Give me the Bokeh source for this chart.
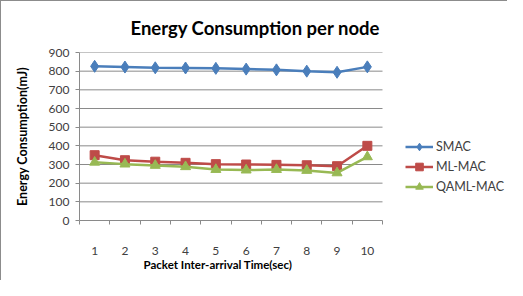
from bokeh.plotting import figure
from bokeh.models import Legend, LegendItem, FixedTicker, Range1d, Title
from bokeh.embed import file_html
from bokeh.resources import INLINE

x_vals = [1, 2, 3, 4, 5, 6, 7, 8, 9, 10]
x_labels = ["1", "2", "3", "4", "5", "6", "7", "8", "9", "10"]
smac = [826, 822, 818, 817, 815, 811, 807, 800, 794, 823]
mlmac = [350, 323, 315, 309, 302, 300, 298, 296, 291, 400]
qamlmac = [312, 302, 295, 288, 273, 270, 273, 268, 255, 341]
y_ticks = [0, 100, 200, 300, 400, 500, 600, 700, 800, 900]

FONT = "Lato"
TXT = "#404040"
GRID = "#8a8a8a"

x_lo = x_vals[0] - 0.5
x_hi = x_vals[-1] + 0.5
# frame extends to the right to host the legend; category width ~30.3 px
x_end = x_lo + 427 / 30.3

p = figure(width=507, height=280, output_backend="svg", toolbar_location=None,
           x_range=Range1d(x_lo, x_end), y_range=Range1d(y_ticks[0], y_ticks[-1]),
           min_border_left=78, min_border_right=2, min_border_top=51, min_border_bottom=61)
p.title = None
p.add_layout(Title(text="Energy Consumption per node", align="left", text_font=FONT,
                   text_font_size="18.5px", text_font_style="bold", text_color="#000000",
                   offset=51, standoff=27), "above")

p.outline_line_color = None
p.background_fill_color = "white"
p.border_fill_color = "white"
p.styles = {"border-top": "1px solid #8c8c8c", "border-left": "1px solid #8c8c8c"}

p.xgrid.grid_line_color = None
p.ygrid.grid_line_color = None
p.segment(x0=x_lo, x1=x_hi, y0=y_ticks[1:], y1=y_ticks[1:], line_color=GRID, line_width=1)

p.xaxis.bounds = (x_lo, x_hi)
p.xaxis.ticker = FixedTicker(ticks=x_vals, minor_ticks=[v - 0.5 for v in x_vals] + [x_hi])
p.xaxis.major_label_overrides = {v: l for v, l in zip(x_vals, x_labels)}
p.xaxis.major_tick_line_color = None
p.xaxis.minor_tick_line_color = GRID
p.xaxis.minor_tick_out = 4
p.xaxis.minor_tick_in = 0
p.xaxis.axis_line_color = GRID
p.xaxis.major_label_standoff = 20

p.add_layout(Title(text="Packet Inter-arrival Time(sec)", align="left", text_font=FONT,
                   text_font_size="11.5px", text_font_style="bold", text_color="#000000",
                   offset=64, standoff=1, vertical_align="top"), "below")

p.yaxis.ticker = FixedTicker(ticks=y_ticks)
p.yaxis.minor_tick_line_color = None
p.yaxis.major_tick_line_color = GRID
p.yaxis.major_tick_out = 4
p.yaxis.major_tick_in = 0
p.yaxis.axis_line_color = GRID
p.yaxis.major_label_standoff = 6
p.yaxis.axis_label = "Energy Consumption(mJ)"
p.yaxis.axis_label_standoff = 16
p.yaxis.axis_label_text_font = FONT
p.yaxis.axis_label_text_font_style = "bold"
p.yaxis.axis_label_text_color = "#000000"
p.yaxis.axis_label_text_font_size = "12.5px"

for ax in (p.xaxis, p.yaxis):
    ax.major_label_text_font = FONT
    ax.major_label_text_font_size = "12px"
    ax.major_label_text_color = TXT

c1, c2, c3 = "#4A7EBB", "#BE4B48", "#98B954"
l1 = p.line(x_vals, smac, line_color=c1, line_width=2.5)
m1 = p.scatter(x_vals, smac, marker="diamond", size=12, fill_color=c1, line_color=c1)
l2 = p.line(x_vals, mlmac, line_color=c2, line_width=2.5)
m2 = p.scatter(x_vals, mlmac, marker="square", size=9, fill_color=c2, line_color=c2)
l3 = p.line(x_vals, qamlmac, line_color=c3, line_width=2.5)
m3 = p.scatter(x_vals, qamlmac, marker="triangle", size=10, fill_color=c3, line_color=c3)

legend = Legend(items=[LegendItem(label="SMAC", renderers=[l1, m1]),
                       LegendItem(label="ML-MAC", renderers=[l2, m2]),
                       LegendItem(label="QAML-MAC", renderers=[l3, m3])],
                location=(326, 24), orientation="vertical",
                glyph_width=28, glyph_height=19, label_height=19, spacing=1,
                label_standoff=3, padding=0, margin=0,
                border_line_color=None, background_fill_alpha=0,
                label_text_font=FONT, label_text_font_size="12.5px", label_text_color=TXT)
p.add_layout(legend, "center")

open("out.html", "w").write(file_html(p, INLINE))
